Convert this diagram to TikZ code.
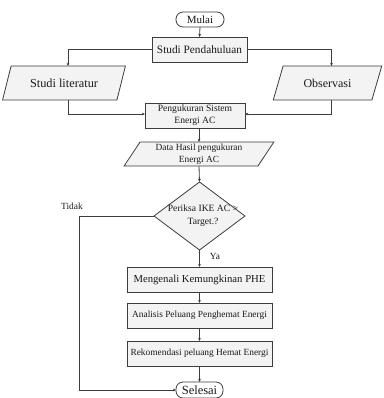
\documentclass[tikz,border=0pt]{standalone}
\usepackage{fontspec}
\setmainfont{Liberation Serif}
\usetikzlibrary{arrows.meta,shapes.geometric,shadows}
\definecolor{ln}{HTML}{3C3C3C}
\definecolor{bx}{HTML}{F3F3F3}
\begin{document}
\begin{tikzpicture}[x=1pt,y=-1pt,
  every node/.style={outer sep=0pt,inner sep=1pt,text=black!90,align=center},
  procbox/.style={draw=ln,line width=0.8pt,fill=bx,rectangle,
    drop shadow={shadow xshift=0.9pt,shadow yshift=-0.9pt,fill=black!60,opacity=0.6}},
  iobox/.style={draw=ln,line width=0.8pt,fill=bx,trapezium,trapezium stretches=true,
    trapezium left angle=62,trapezium right angle=118},
  termbox/.style={draw=ln,line width=0.8pt,fill=white,rectangle,rounded corners=7pt},
  decbox/.style={draw=ln,line width=0.8pt,fill=bx,diamond},
  conn/.style={draw=ln,line width=0.8pt,-{Stealth[length=3.2pt,width=2.8pt]}},
  lbl/.style={font=\fontsize{9.4}{11}\selectfont}]
\useasboundingbox (0,0) rectangle (383,398);

\node[termbox,minimum width=48pt,minimum height=15pt,font=\fontsize{11}{13}\selectfont] (mulai) at (200,19.5) {Mulai};
\node[procbox,minimum width=95pt,minimum height=25pt,font=\fontsize{11.3}{13}\selectfont] (sp) at (199.5,49.5) {Studi Pendahuluan};
\node[iobox,minimum width=124pt,minimum height=34pt,font=\fontsize{12.3}{14}\selectfont] (lit) at (64,83) {Studi literatur};
\node[iobox,minimum width=109pt,minimum height=34pt,font=\fontsize{12}{14}\selectfont] (obs) at (327.5,83) {Observasi};
\node[procbox,minimum width=100pt,minimum height=25pt,font=\fontsize{9.6}{12}\selectfont] (peng) at (195,115.5) {Pengukuran Sistem\\Energi AC};
\node[iobox,minimum width=150pt,minimum height=24pt,font=\fontsize{9.4}{12}\selectfont] (data) at (199,154) {Data Hasil pengukuran\\Energi AC};
\node[decbox,minimum width=91pt,minimum height=68pt,inner sep=0pt] (dia) at (199.5,216) {};
\node[font=\fontsize{9.6}{13}\selectfont] (diat) at (203,216) {Periksa IKE AC >\\Target.?};
\node[procbox,minimum width=145pt,minimum height=25pt,font=\fontsize{10.7}{13}\selectfont] (men) at (199.5,279.5) {Mengenali Kemungkinan PHE};
\node[procbox,minimum width=145pt,minimum height=25pt,font=\fontsize{9.4}{12}\selectfont] (ana) at (199.5,315.5) {Analisis Peluang Penghemat Energi};
\node[procbox,minimum width=145pt,minimum height=25pt,font=\fontsize{9.4}{12}\selectfont] (rek) at (199.5,353.5) {Rekomendasi peluang Hemat Energi};
\node[termbox,minimum width=47pt,minimum height=16pt,font=\fontsize{12.5}{14}\selectfont] (sel) at (199.5,390) {Selesai};

\node[lbl] (tidak) at (72,206) {Tidak};
\node[lbl] (ya) at (215,256) {Ya};
\coordinate (lc) at (79,300);

\draw[conn] (mulai.south) -- (sp.north);
\draw[conn] (sp.west) -| ([xshift=4pt]lit.north);
\draw[conn] (sp.east) -| ([xshift=4pt]obs.north);
\draw[conn] ([xshift=4pt]lit.south) |- ([yshift=1.5pt]peng.west);
\draw[conn] ([xshift=4pt]obs.south) |- ([yshift=1.5pt]peng.east);
\draw[conn] (data.north |- peng.south) -- (data.north);
\draw[conn] (data.south) -- (dia.north);
\draw[conn] (dia.south) -- (men.north);
\draw[conn] (men.south) -- (ana.north);
\draw[conn] (ana.south) -- (rek.north);
\draw[conn] (rek.south) -- (sel.north);
\draw[conn] (dia.west) -| (sel.west -| lc) -- (sel.west);
\end{tikzpicture}
\end{document}
